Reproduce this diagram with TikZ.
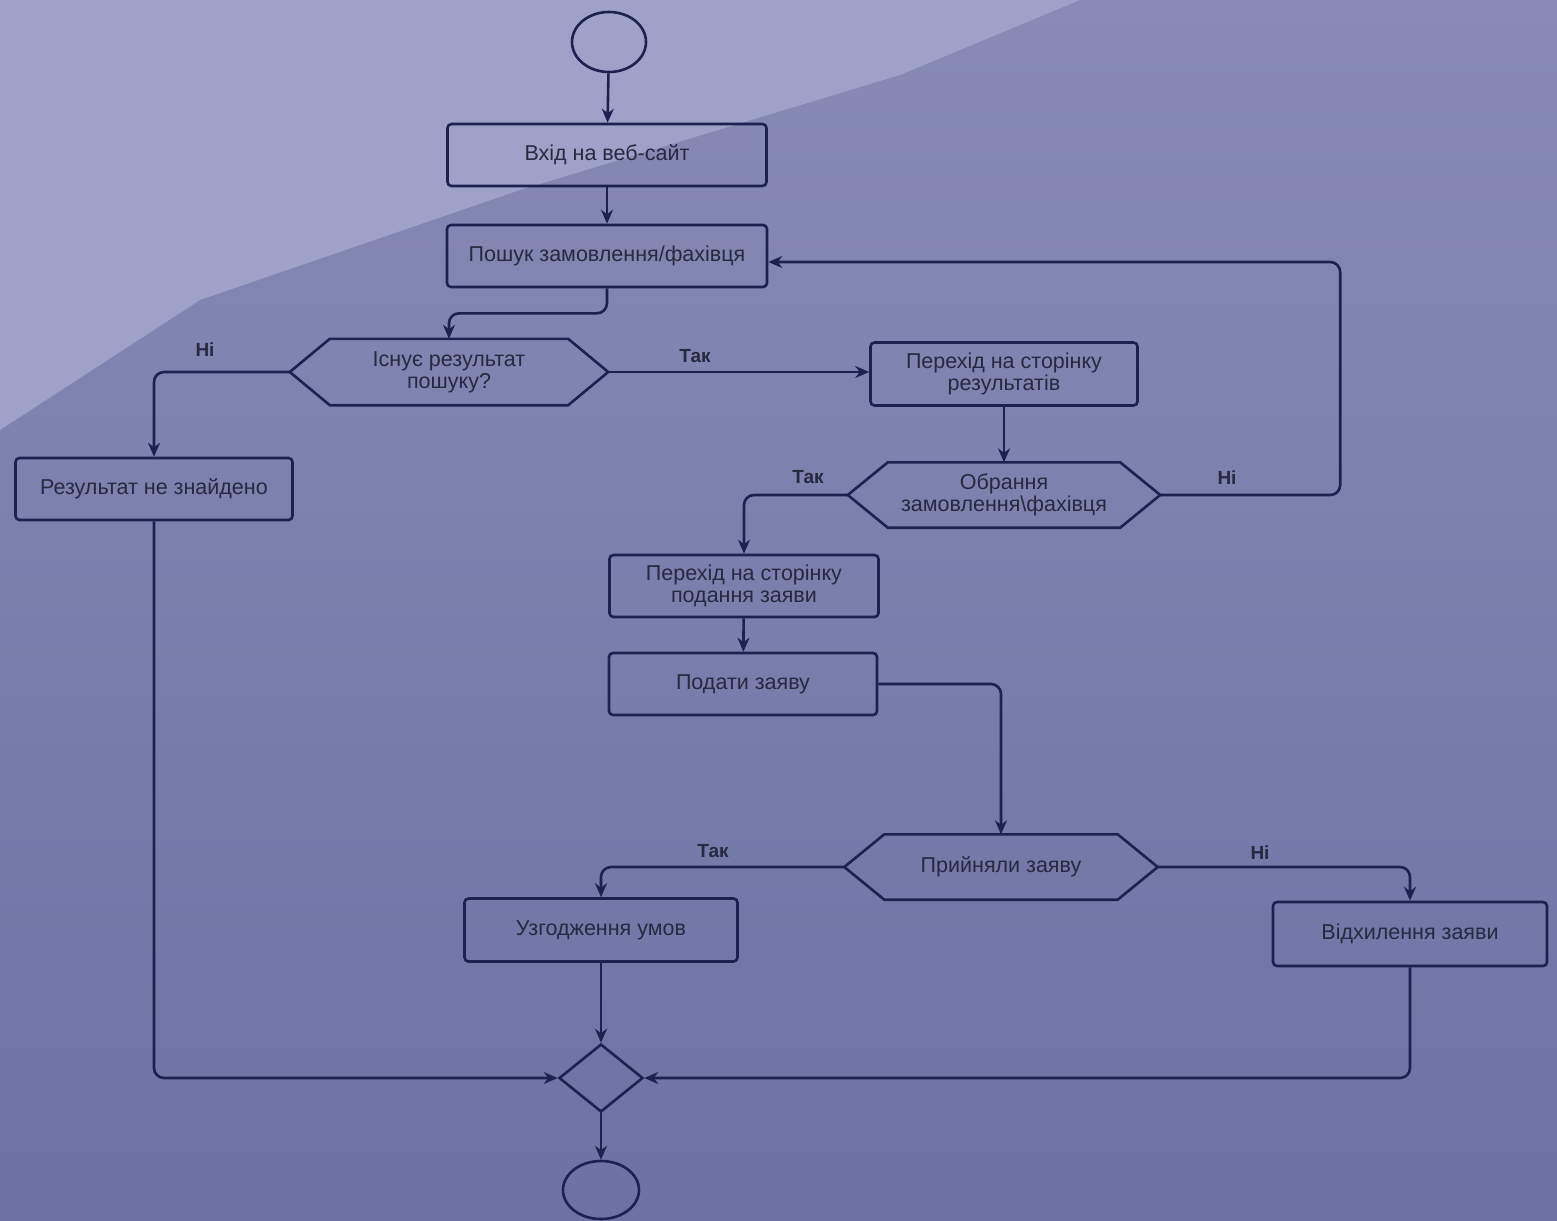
\documentclass[tikz,border=0pt]{standalone}
\usepackage{fontspec}
\setmainfont{Liberation Sans}
\usetikzlibrary{shapes.geometric,arrows.meta}

\definecolor{paper}{HTML}{878BB5}
\definecolor{paperlow}{HTML}{6C72A3}
\definecolor{paperlight}{HTML}{9EA2C8}
\definecolor{ink}{HTML}{1D2150}
\definecolor{txt}{HTML}{262940}

\tikzset{
  shapeline/.style={draw=ink, line width=2.6pt},
  stepbox/.style={shapeline, rectangle, rounded corners=4pt, inner sep=2pt,
    align=center, text=txt, font=\fontsize{21.5}{22}\selectfont},
  hexnode/.style={rectangle, inner sep=2pt, align=center, text=txt,
    font=\fontsize{21.5}{22}\selectfont},
  terminal/.style={shapeline, ellipse, inner sep=0pt},
  mergenode/.style={shapeline, diamond, inner sep=0pt},
  flow/.style={draw=ink, line width=2.6pt, rounded corners=10pt,
    -{Stealth[length=14pt,width=12pt]}},
  answer/.style={text=txt, font=\fontsize{19}{22}\selectfont\bfseries},
}

% six-sided outline around a text node, pointed at west and east
\newcommand\hexframe[1]{%
  \draw[shapeline, line join=round] (#1.west) -- ([xshift=40pt]#1.north west)
    -- ([xshift=-40pt]#1.north east) -- (#1.east)
    -- ([xshift=-40pt]#1.south east) -- ([xshift=40pt]#1.south west) -- cycle;}

\begin{document}
\begin{tikzpicture}[x=1pt, y=-1pt]
  % sheet of paper
  \useasboundingbox (0,0) rectangle (1557,1220);
  \shade[top color=paper, bottom color=paperlow] (0,0) rectangle (1557,1220);
  \fill[paperlight] (0,0) -- (1080,0) -- (900,75) -- (520,190) -- (200,300)
    -- (0,430) -- cycle;

  % nodes
  \node[terminal, minimum width=74, minimum height=60] (start) at (609,42) {};
  \node[stepbox, minimum width=319, minimum height=62] (enter) at (607,155) {Вхід на веб-сайт};
  \node[stepbox, minimum width=320, minimum height=62] (search) at (607,256) {Пошук замовлення/фахівця};
  \node[hexnode, minimum width=318, minimum height=66] (found) at (449,372) {Існує результат\\пошуку?};
  \node[stepbox, minimum width=267, minimum height=63] (results) at (1004,374) {Перехід на сторінку\\результатів};
  \node[hexnode, minimum width=312, minimum height=65] (choose) at (1004,495) {Обрання\\замовлення\textbackslash фахівця};
  \node[stepbox, minimum width=277, minimum height=62] (none) at (154,489) {Результат не знайдено};
  \node[stepbox, minimum width=269, minimum height=62] (apply) at (744,586) {Перехід на сторінку\\подання заяви};
  \node[stepbox, minimum width=268, minimum height=62] (submit) at (743,684) {Подати заяву};
  \node[hexnode, minimum width=313, minimum height=65] (accepted) at (1001,867) {Прийняли заяву};
  \node[stepbox, minimum width=273, minimum height=63] (agree) at (601,930) {Узгодження умов};
  \node[stepbox, minimum width=274, minimum height=64] (reject) at (1410,934) {Відхилення заяви};
  \node[mergenode, minimum width=84, minimum height=68] (merge) at (601,1078) {};
  \node[terminal, minimum width=76, minimum height=58] (stop) at (601,1190) {};

  \hexframe{found}
  \hexframe{choose}
  \hexframe{accepted}

  % connectors
  \draw[flow] (start) -- (enter);
  \draw[flow] (enter) -- (search);
  \draw[flow] (search.south) -- ++(0,25) -| (found.north);
  \draw[flow] (found.west) -| (none.north);
  \draw[flow] (found.east) -- (found.east -| results.west);
  \draw[flow] (results) -- (choose);
  \draw[flow] (choose.east) -- ++(180,0) |- ([yshift=-6pt]search.east);
  \draw[flow] (choose.west) -| (apply.north);
  \draw[flow] (apply) -- (submit);
  \draw[flow] (submit.east) -| (accepted.north);
  \draw[flow] (accepted.west) -| (agree.north);
  \draw[flow] (accepted.east) -| (reject.north);
  \draw[flow] (agree) -- (merge);
  \draw[flow] (none.south) |- (merge.west);
  \draw[flow] (reject.south) |- (merge.east);
  \draw[flow] (merge) -- (stop);

  % branch labels
  \node[answer] (l1) at (205,350) {Ні};
  \node[answer] (l2) at (695,356) {Так};
  \node[answer] (l3) at (808,477) {Так};
  \node[answer] (l4) at (1227,478) {Ні};
  \node[answer] (l5) at (713,851) {Так};
  \node[answer] (l6) at (1260,853) {Ні};
\end{tikzpicture}
\end{document}
